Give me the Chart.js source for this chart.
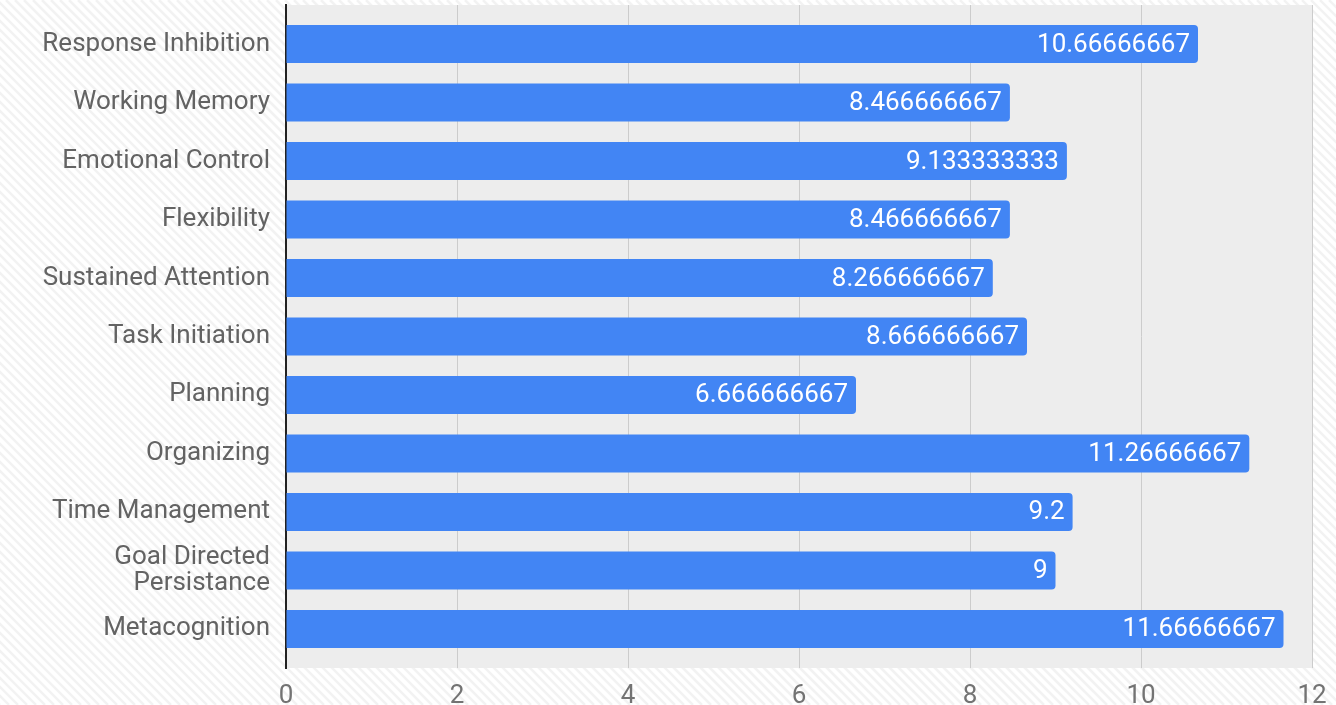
<!DOCTYPE html>
<html>
<head>
<meta charset="utf-8">
<script src="https://cdn.jsdelivr.net/npm/chart.js@4/dist/chart.umd.min.js"></script>
<style>
html,body{margin:0;padding:0;background:#fff;}
#wrap{width:1336px;height:705px;position:relative;}
</style>
</head>
<body>
<div id="wrap"><canvas id="c" width="1336" height="705"></canvas></div>
<script>
const categories = [
  "Response Inhibition",
  "Working Memory",
  "Emotional Control",
  "Flexibility",
  "Sustained Attention",
  "Task Initiation",
  "Planning",
  "Organizing",
  "Time Management",
  ["Goal Directed", "Persistance"],
  "Metacognition"
];
const values = [10.66666667, 8.466666667, 9.133333333, 8.466666667, 8.266666667, 8.666666667, 6.666666667, 11.26666667, 9.2, 9, 11.66666667];
const valueLabels = ["10.66666667", "8.466666667", "9.133333333", "8.466666667", "8.266666667", "8.666666667", "6.666666667", "11.26666667", "9.2", "9", "11.66666667"];
const xTicks = [0, 2, 4, 6, 8, 10, 12];

const FONT = "Roboto, 'Open Sans', sans-serif";

const bgPlugin = {
  id: 'bg',
  beforeDraw(chart) {
    const ctx = chart.ctx;
    const w = chart.width, h = chart.height;
    ctx.save();
    ctx.fillStyle = '#ffffff';
    ctx.fillRect(0, 0, w, h);
    ctx.strokeStyle = 'rgba(232,232,232,0.55)';
    ctx.lineWidth = 2.5;
    for (let k = -h; k < w + h; k += 9) {
      ctx.beginPath();
      ctx.moveTo(k, 0);
      ctx.lineTo(k + h, h);
      ctx.stroke();
    }
    const a = chart.chartArea;
    ctx.fillStyle = '#ededed';
    ctx.fillRect(a.left, a.top, a.right - a.left, a.bottom - a.top);
    ctx.restore();
  }
};

const labelPlugin = {
  id: 'vlabels',
  afterDatasetsDraw(chart) {
    const ctx = chart.ctx;
    const meta = chart.getDatasetMeta(0);
    ctx.save();
    ctx.fillStyle = '#ffffff';
    ctx.font = "26px " + FONT;
    ctx.textAlign = 'right';
    ctx.textBaseline = 'middle';
    meta.data.forEach((bar, i) => {
      ctx.fillText(valueLabels[i], bar.x - 8, bar.y + 1);
    });
    ctx.restore();
  }
};

new Chart(document.getElementById('c'), {
  type: 'bar',
  data: {
    labels: categories,
    datasets: [{
      data: values,
      backgroundColor: '#4285f4',
      borderWidth: 0,
      borderRadius: {topLeft: 0, bottomLeft: 0, topRight: 4, bottomRight: 4},
      borderSkipped: false,
      categoryPercentage: 1,
      barPercentage: 0.65
    }]
  },
  options: {
    indexAxis: 'y',
    responsive: false,
    animation: false,
    devicePixelRatio: 1,
    layout: { padding: { top: 5, right: 24, left: 0, bottom: 0 } },
    plugins: { legend: { display: false }, tooltip: { enabled: false } },
    scales: {
      x: {
        min: 0, max: 12,
        afterBuildTicks(scale) { scale.ticks = xTicks.map(v => ({ value: v })); },
        afterFit(scale) { scale.height = 37; scale.paddingLeft = 0; scale.paddingRight = 0; },
        grid: { color: '#cccccc', lineWidth: 1, drawTicks: false },
        border: { display: false },
        ticks: { color: '#737373', font: { family: FONT, size: 26 }, padding: 13 }
      },
      y: {
        afterFit(scale) { scale.width = 286; scale.paddingTop = 0; scale.paddingBottom = 0; },
        afterUpdate(scale) { scale._startValue -= 0.167; scale._valueRange += 0.334; },
        grid: { display: false, drawTicks: false },
        border: { display: true, color: '#222', width: 2 },
        ticks: { color: '#636363', font: { family: FONT, size: 26, lineHeight: 1.0 }, padding: 16 }
      }
    }
  },
  plugins: [bgPlugin, labelPlugin]
});
</script>
</body>
</html>
